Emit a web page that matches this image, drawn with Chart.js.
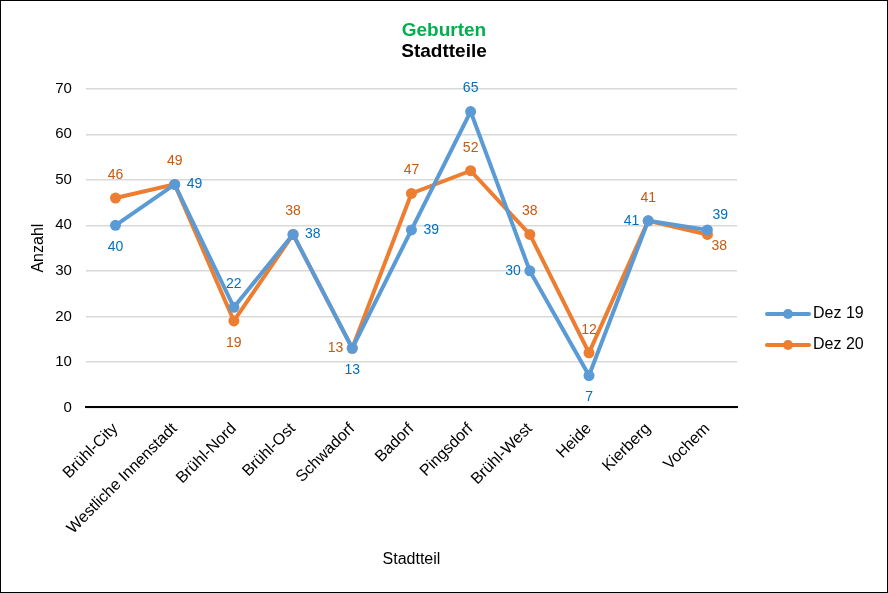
<!DOCTYPE html>
<html>
<head>
<meta charset="utf-8">
<script src="https://cdn.jsdelivr.net/npm/chart.js@4/dist/chart.umd.min.js"></script>
<style>
  html, body { margin: 0; padding: 0; background: #fff; }
  #wrap { width: 886px; height: 591px; border: 1px solid #000; }
</style>
</head>
<body>
<div id="wrap"><canvas id="chart" width="886" height="591"></canvas></div>
<script>
// Stadtteile and values
const stadtteile = ["Brühl-City", "Westliche Innenstadt", "Brühl-Nord", "Brühl-Ost", "Schwadorf",
  "Badorf", "Pingsdorf", "Brühl-West", "Heide", "Kierberg", "Vochem"];
const dez19 = [40, 49, 22, 38, 13, 39, 65, 30, 7, 41, 39];
const dez20 = [46, 49, 19, 38, 13, 47, 52, 38, 12, 41, 38];

// where each data label sits relative to its point
const pos19 = ["below", "right", "above", "right", "below", "right", "above", "left", "below", "left", "aboveRight"];
const pos20 = ["above", "above", "below", "above", "left", "above", "above", "above", "above", "above", "belowRight"];

const FONT = "'Liberation Sans', Arial, sans-serif";

// draws the value labels next to the points
const labelPlugin = {
  id: "valueLabels",
  afterDatasetsDraw(chart) {
    const ctx = chart.ctx;
    chart.data.datasets.forEach((ds, di) => {
      const meta = chart.getDatasetMeta(di);
      meta.data.forEach((pt, i) => {
        let x = pt.x, y = pt.y, align = "center";
        switch (ds.labelPos[i]) {
          case "above": y -= 23; break;
          case "below": y += 22; break;
          case "left": x -= 9; align = "right"; break;
          case "right": x += 12; align = "left"; break;
          case "aboveRight": x += 5; y -= 15; align = "left"; break;
          case "belowRight": x += 4; y += 12; align = "left"; break;
        }
        ctx.save();
        ctx.font = "14px " + FONT;
        ctx.fillStyle = ds.labelColor;
        ctx.textAlign = align;
        ctx.textBaseline = "middle";
        ctx.fillText(ds.data[i], x, y);
        ctx.restore();
      });
    });
  }
};

// legend on the right, drawn by hand so it can sit lower
const legendPlugin = {
  id: "sideLegend",
  afterDraw(chart) {
    const ctx = chart.ctx;
    const x0 = 766, ys = [313, 344];
    chart.data.datasets.forEach((ds, di) => {
      const y = ys[di];
      ctx.save();
      ctx.strokeStyle = ds.borderColor;
      ctx.lineWidth = 4;
      ctx.lineCap = "round";
      ctx.beginPath();
      ctx.moveTo(x0, y);
      ctx.lineTo(x0 + 42, y);
      ctx.stroke();
      ctx.fillStyle = ds.borderColor;
      ctx.beginPath();
      ctx.arc(x0 + 21, y, 5, 0, Math.PI * 2);
      ctx.fill();
      ctx.font = "16px " + FONT;
      ctx.fillStyle = "#000";
      ctx.textAlign = "left";
      ctx.textBaseline = "middle";
      ctx.fillText(ds.label, x0 + 46, y);
      ctx.restore();
    });
  }
};

new Chart(document.getElementById("chart"), {
  type: "line",
  data: {
    labels: stadtteile,
    datasets: [
      {
        label: "Dez 19",
        data: dez19,
        borderColor: "#5B9BD5",
        backgroundColor: "#5B9BD5",
        labelColor: "#0070C0",
        labelPos: pos19,
        borderWidth: 4,
        pointRadius: 5.5,
        pointBorderWidth: 0,
        pointHoverRadius: 5.5,
        tension: 0
      },
      {
        label: "Dez 20",
        data: dez20,
        borderColor: "#ED7D31",
        backgroundColor: "#ED7D31",
        labelColor: "#C55A11",
        labelPos: pos20,
        borderWidth: 4,
        pointRadius: 5.5,
        pointBorderWidth: 0,
        pointHoverRadius: 5.5,
        tension: 0
      }
    ]
  },
  options: {
    responsive: false,
    animation: false,
    layout: { padding: { left: 0, right: 0, top: 8, bottom: 19 } },
    plugins: {
      legend: { display: false },
      tooltip: { enabled: false },
      title: {
        display: true,
        text: "Geburten",
        color: "#00B050",
        font: { family: FONT, size: 19, weight: "bold", lineHeight: 1.1 },
        padding: { top: 11, bottom: 0 }
      },
      subtitle: {
        display: true,
        text: "Stadtteile",
        color: "#000",
        font: { family: FONT, size: 19, weight: "bold", lineHeight: 1.1 },
        padding: { top: 0, bottom: 27 }
      }
    },
    scales: {
      x: {
        offset: true,
        grid: { display: false, drawTicks: false },
        border: { color: "#000", width: 2 },
        ticks: {
          color: "#000",
          font: { family: FONT, size: 16 },
          maxRotation: 45,
          minRotation: 45,
          padding: 12,
          autoSkip: false
        },
        title: {
          display: true,
          text: "Stadtteil",
          color: "#000",
          font: { family: FONT, size: 16 },
          padding: { top: 0 }
        }
      },
      y: {
        min: 0,
        max: 70,
        grid: { color: "#D9D9D9", lineWidth: 1.5, drawTicks: false },
        border: { display: false },
        ticks: {
          stepSize: 10,
          color: "#000",
          font: { family: FONT, size: 15 },
          padding: 14
        },
        title: {
          display: true,
          text: "Anzahl",
          color: "#000",
          font: { family: FONT, size: 16 },
          padding: { top: 28, bottom: -7 }
        }
      },
      // empty axis on the right that keeps room for the legend
      legendSpace: {
        type: "linear",
        position: "right",
        grid: { display: false, drawTicks: false },
        border: { display: false },
        ticks: { display: false },
        afterFit(scale) { scale.width = 150; }
      }
    }
  },
  plugins: [labelPlugin, legendPlugin]
});
</script>
</body>
</html>
